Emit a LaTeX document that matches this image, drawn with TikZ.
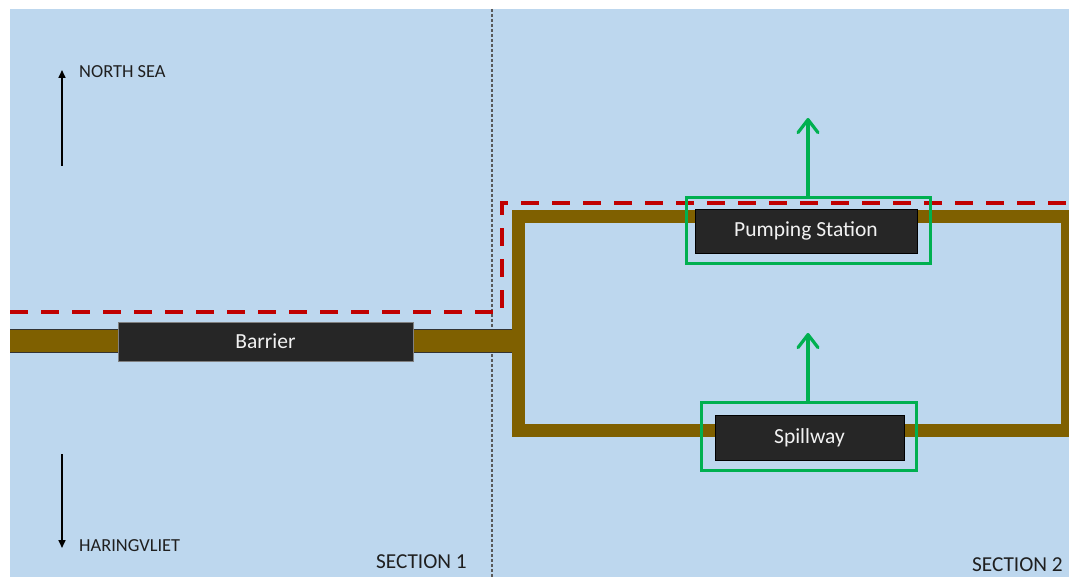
\documentclass[tikz,border=0pt]{standalone}
\usepackage{fontspec}
\setmainfont{Carlito}
\usetikzlibrary{arrows.meta}
\definecolor{sea}{HTML}{BDD7EE}
\definecolor{dike}{HTML}{7F6000}
\definecolor{boxfill}{HTML}{262626}
\definecolor{grn}{HTML}{00B050}
\definecolor{redd}{HTML}{C00000}
\definecolor{gridgrey}{HTML}{595959}
\begin{document}
\begin{tikzpicture}[x=1pt,y=-1pt,
  darkbox/.style={draw=#1,line width=0.8pt,fill=boxfill,text=white!95!black,inner sep=0pt,font=\fontsize{21.5}{24}\selectfont},
  greenframe/.style={draw=grn,line width=3pt,inner sep=0pt},
  greenarrow/.style={draw=grn,line width=3.2pt,-{Straight Barb[length=13pt,width=20pt,round]}},
  blackarrow/.style={line width=1.6pt,-{Triangle[length=8pt,width=7pt]}},
  smalllabel/.style={font=\fontsize{18.4}{22}\selectfont,text=black!88,inner sep=0pt},
  seclabel/.style={font=\fontsize{21.3}{24}\selectfont,text=black!88,inner sep=0pt}]
\useasboundingbox (0,0) rectangle (1069,577);
\fill[white] (0,0) rectangle (1069,577);
\fill[sea] (10,9) rectangle (1069,577);
% section divider
\draw[gridgrey,line width=1.2pt,dash pattern=on 3pt off 2pt] (492,9) -- (492,577);
% dike left
\fill[dike] (10,329) rectangle (512,352);
\draw[black!80,line width=0.8pt] (10,329) -- (512,329) (10,352) -- (512,352);
% dike loop
\begin{scope}
\clip (10,9) rectangle (1069,577);
\draw[dike,line width=13pt,line join=miter] (518.5,216.5) rectangle (1067.5,430.5);
\end{scope}
% red dashed
\draw[redd,line width=4pt,dash pattern=on 18pt off 13pt] (10,312) -- (502,312) -- (502,203) -- (1069,203);
% boxes
\node[darkbox=black!50, minimum width=295pt, minimum height=39pt] (barrier) at (265.5,341.5) {Barrier};
\node[darkbox=black, minimum width=222pt, minimum height=44pt] (pump) at (806,231) {Pumping Station};
\node[darkbox=black, minimum width=189pt, minimum height=45pt] (spill) at (809.5,437.5) {Spillway};
\node[greenframe, minimum width=244pt, minimum height=66pt] (pumpg) at (808,231) {};
\node[greenframe, minimum width=215pt, minimum height=67pt] (spillg) at (808.5,436.5) {};
\coordinate (pumptip) at (808,118);
\coordinate (spilltip) at (808,333);
\draw[greenarrow] (pumpg.north -| pumptip) -- (pumptip);
\draw[greenarrow] (spillg.north -| spilltip) -- (spilltip);
% direction arrows
\coordinate (nbase) at (62,166);
\coordinate (ntip) at (62,70);
\coordinate (hbase) at (62,454);
\coordinate (htip) at (62,548);
\draw[blackarrow] (nbase) -- (ntip);
\draw[blackarrow] (hbase) -- (htip);
\node[smalllabel, anchor=west] (north) at (79,72) {NORTH SEA};
\node[smalllabel, anchor=west] (haring) at (79,546) {HARINGVLIET};
\node[seclabel, anchor=east] (sec1) at (467,562) {SECTION 1};
\node[seclabel, anchor=east] (sec2) at (1063,565) {SECTION 2};
\end{tikzpicture}
\end{document}
